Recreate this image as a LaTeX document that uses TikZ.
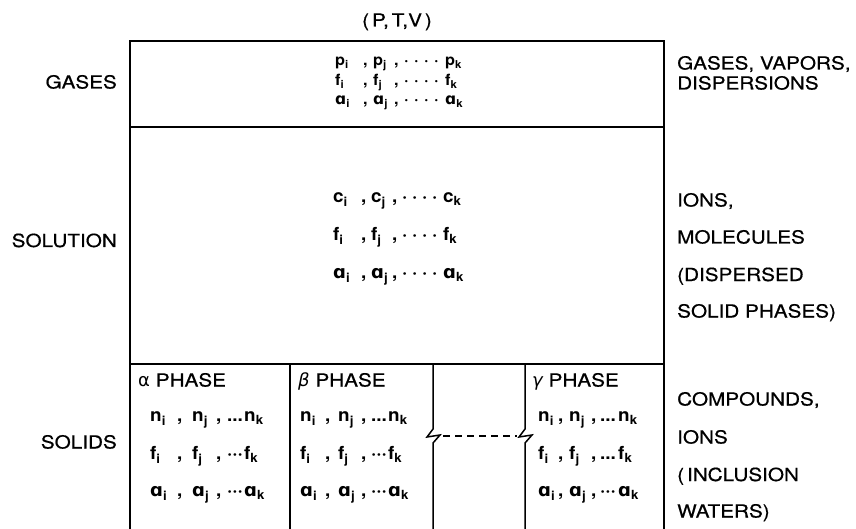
\documentclass[tikz,border=0pt]{standalone}
\usepackage{fontspec}
\setmainfont{TeX Gyre Heros}[FakeStretch=1.15, FakeBold=0.6]
\newfontfamily\fml{TeX Gyre Heros}[FakeStretch=1.05]
\newfontfamily\dvs{DejaVu Sans}
\newcommand\vv[2]{#1\textsubscript{#2}}
\newcommand\alf{{\dvs\bfseries ɑ}}
\newcommand\grow[1]{\rlap{\vv{#1}{i}}\hspace{28pt}\rlap{,}\hspace{10pt}\rlap{\vv{#1}{j}}\hspace{21pt}\rlap{,}\hspace{10pt}\rlap{·}\hspace{10pt}\rlap{·}\hspace{10pt}\rlap{·}\hspace{10pt}\rlap{·}\hspace{11pt}\vv{#1}{k}}
\newcommand\srow[7]{\rlap{\vv{#1}{i}}\hspace{#3pt}\rlap{,}\hspace{#4pt}\rlap{\vv{#1}{j}}\hspace{#5pt}\rlap{,}\hspace{#6pt}\rlap{#2}\hspace{#7pt}\vv{#1}{k}}
\begin{document}
\begin{tikzpicture}[x=1pt,y=-1pt,
  lbl/.style={font=\fontsize{18}{20}\selectfont, inner sep=0pt},
  frm/.style={font=\fml\bfseries\fontsize{18}{20}\selectfont, inner sep=0pt, anchor=mid west},
  gfrm/.style={frm, font=\fml\bfseries\fontsize{15.5}{17}\selectfont},
  frame/.style={line width=1.5pt},
  brk/.style={line width=1.5pt, line join=miter}]
\useasboundingbox (0,0) rectangle (856,529);
% frame
\coordinate (tl) at (130,41); \coordinate (tr) at (664,41);
\coordinate (bl) at (130,529); \coordinate (br) at (664,529);
\draw[frame] (bl) -- (tl) -- (tr) -- (br);
\coordinate (g1) at (130,127); \coordinate (g2) at (664,127);
\coordinate (s1) at (130,364); \coordinate (s2) at (664,364);
\draw[frame] (g1) -- (g2);
\draw[frame] (s1) -- (s2);
\coordinate (d1t) at (290,364); \coordinate (d1b) at (290,529);
\draw[frame] (d1t) -- (d1b);
% breaks
\coordinate (d2t) at (433,364); \coordinate (d2b) at (433,529);
\coordinate (d3t) at (525,364); \coordinate (d3b) at (525,529);
\draw[brk] (d2t) -- (433,429) -- (427,437) -- (440,435) -- (433,443) -- (d2b);
\draw[brk] (d3t) -- (525,429) -- (519,437) -- (532,435) -- (525,443) -- (d3b);
\coordinate (ds1) at (443,436); \coordinate (ds2) at (517,436);
\draw[line width=1.3pt, dash pattern=on 7pt off 5pt] (ds1) -- (ds2);
% titles
\node[lbl, anchor=base] (ptv) at (397,26.5) {(\,P,\,T,V\,)};
\node[lbl, anchor=base east] (lg) at (117,88.5) {GASES};
\node[lbl, anchor=base east] (ls) at (117,247) {SOLUTION};
\node[lbl, anchor=base east] (ld) at (117,448.5) {SOLIDS};
% right labels
\node[lbl, anchor=base west] (r1) at (677,69.5) {GASES, VAPORS,};
\node[lbl, anchor=base west] (r2) at (677,89.5) {DISPERSIONS};
\node[lbl, anchor=base west] (r3) at (677,206.5) {IONS,};
\node[lbl, anchor=base west] (r4) at (677,243.5) {MOLECULES};
\node[lbl, anchor=base west] (r5) at (677,281) {(DISPERSED};
\node[lbl, anchor=base west] (r6) at (677,317.5) {SOLID PHASES)};
\node[lbl, anchor=base west] (r7) at (677,405.5) {COMPOUNDS,};
\node[lbl, anchor=base west] (r8) at (677,443.5) {IONS};
\node[lbl, anchor=base west] (r9) at (677,481) {(\,INCLUSION};
\node[lbl, anchor=base west] (r10) at (677,517.5) {WATERS)};
% gases formulas
\node[gfrm] (gp) at (335,63) {\grow{p}};
\node[gfrm] (gf) at (335,82.5) {\grow{f}};
\node[gfrm] (ga) at (335,102) {\grow{\alf}};
% solution formulas
\node[frm] (sc) at (333,200) {\grow{c}};
\node[frm] (sf) at (333,238) {\grow{f}};
\node[frm] (sa) at (333,276) {\grow{\alf}};
% phase headers
\node[lbl, anchor=base west] (ha) at (138,386.5) {{\dvs α} PHASE};
\node[lbl, anchor=base west] (hb) at (298,386.5) {{\dvs\itshape β} PHASE};
\node[lbl, anchor=base west] (hc) at (532,386.5) {{\dvs\itshape γ} PHASE};
% solids formulas
\node[frm] (an) at (150,419) {\srow{n}{...}{27}{15}{24}{11}{17}};
\node[frm] (af) at (150,457) {\srow{f}{···}{27}{15}{24}{11}{17}};
\node[frm] (aa) at (150,494) {\srow{\alf}{···}{27}{15}{24}{11}{17}};
\node[frm] (bn) at (300,419) {\srow{n}{...}{25}{13}{23}{10}{17}};
\node[frm] (bf) at (300,457) {\srow{f}{···}{25}{13}{23}{10}{17}};
\node[frm] (ba) at (300,494) {\srow{\alf}{···}{25}{13}{23}{10}{17}};
\node[frm] (cn) at (538,419) {\srow{n}{...}{20}{11}{22}{9}{18}};
\node[frm] (cf) at (538,457) {\srow{f}{...}{20}{11}{22}{9}{18}};
\node[frm] (ca) at (538,494) {\srow{\alf}{···}{20}{11}{22}{9}{18}};
\end{tikzpicture}
\end{document}
